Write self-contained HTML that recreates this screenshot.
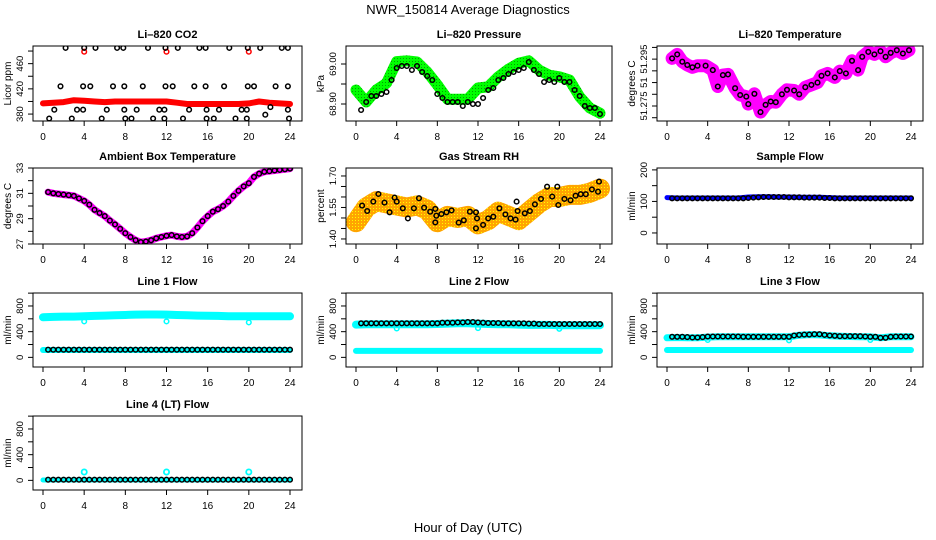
<!DOCTYPE html>
<html><head><meta charset="utf-8">
<style>
html,body{margin:0;padding:0;background:#fff;}
svg{display:block;font-family:"Liberation Sans",Arial,sans-serif;}
</style></head>
<body>
<svg id="chart" width="936" height="540" viewBox="0 0 936 540" xmlns="http://www.w3.org/2000/svg">
<defs>
<pattern id="grnpat" width="3" height="3" patternUnits="userSpaceOnUse"><rect width="3" height="3" fill="#00ff00"/><rect x="1" y="1" width="1" height="1" fill="#00a000"/></pattern>
<pattern id="rhpat" width="3" height="3" patternUnits="userSpaceOnUse"><rect width="3" height="3" fill="#ffa500"/><rect x="1" y="1" width="1" height="1" fill="#ffff00"/></pattern>
</defs>
<text x="468" y="14" text-anchor="middle" font-size="13">NWR_150814  Average Diagnostics</text>
<text x="468" y="532" text-anchor="middle" font-size="13">Hour of Day (UTC)</text>
</svg>
<script>
// ---- data ----
const halfHours = [0.5,1,1.5,2,2.5,3,3.5,4,4.5,5,5.5,6,6.5,7,7.5,8,8.5,9,9.5,10,10.5,11,11.5,12,12.5,13,13.5,14,14.5,15,15.5,16,16.5,17,17.5,18,18.5,19,19.5,20,20.5,21,21.5,22,22.5,23,23.5,24];
const hours = [0,1,2,3,4,5,6,7,8,9,10,11,12,13,14,15,16,17,18,19,20,21,22,23,24];

// CO2
const co2BandV = [397,398,399,402,401,400,399,400,400,400,400,400,400,398,396,396,396,396,396,396,397,400,398,397,396];
const co2BlackT = [2.2,4.0,5.1,7.2,7.8,10.2,11.9,13.1,15.2,15.8,18.1,19.9,21.1,23.2,23.8, 1.7,3.9,4.6,6.8,7.9,9.7,11.9,12.6,14.7,15.8,17.6,19.9,20.5,22.6,23.8, 1.1,3.3,3.9,6.2,7.9,9.1,11.3,11.8,14.2,15.9,17.1,19.3,19.8,23.8,22.1,21.6, 0.6,2.8,5.7,8.0,8.6,10.7,11.8,13.6,15.9,16.6,18.7,19.8,23.9];
const co2BlackV = [485,485,485,485,485,485,485,485,485,485,485,485,485,485,485, 424,424,424,424,424,424,424,424,424,424,424,424,424,424,424, 387,387,387,387,387,387,387,387,387,387,387,387,387,387,391,379, 373,373,373,373,373,373,373,373,373,373,373,373,373];
const co2OutT = [4.0,12.0,20.0];
const co2OutV = [479,479,479];

// Pressure
const presBandV = [68.935,68.905,68.935,68.952,69.006,69.008,69.005,68.98,68.948,68.912,68.912,68.912,68.94,68.943,68.968,68.987,69.002,69.008,68.985,68.972,68.968,68.96,68.918,68.89,68.877];
const presBlackV = [68.885,68.905,68.92,68.92,68.925,68.93,68.96,68.99,68.995,68.995,68.985,68.995,68.98,68.97,68.96,68.925,68.915,68.905,68.905,68.905,68.895,68.905,68.9,68.9,68.915,68.935,68.94,68.96,68.965,68.975,68.98,68.985,68.99,69.005,68.985,68.975,68.955,68.96,68.955,68.965,68.955,68.955,68.935,68.92,68.895,68.89,68.89,68.875];

// Li-820 temperature
const tempT = [0.5,1,1.5,2,2.5,3,3.8,4.5,5,5.5,6,6.7,7.2,7.8,8,8.6,9.2,9.7,10.2,10.7,11.3,11.8,12.5,13,13.6,14.2,14.8,15.2,15.8,16.5,17,17.6,18.2,18.8,19.2,19.8,20.4,21,21.5,22,22.6,23.2,23.8];
const tempV = [51.2953,51.2970,51.2939,51.2925,51.2915,51.2922,51.2922,51.2903,51.2833,51.2882,51.2885,51.2826,51.2797,51.2790,51.2758,51.2802,51.2724,51.2755,51.2769,51.2766,51.2800,51.2819,51.2816,51.2800,51.2830,51.2840,51.2850,51.2879,51.2889,51.2872,51.2899,51.2889,51.2943,51.2903,51.2960,51.2981,51.2970,51.2984,51.2960,51.2977,51.2988,51.2974,51.2988];

// Ambient box temperature
const ambV = [31.1,31.0,30.95,30.9,30.85,30.8,30.6,30.4,30.1,29.7,29.45,29.2,28.85,28.55,28.2,27.85,27.55,27.3,27.15,27.2,27.3,27.45,27.55,27.65,27.7,27.6,27.55,27.6,27.85,28.3,28.8,29.2,29.55,29.75,30.0,30.35,30.8,31.2,31.55,31.8,32.3,32.55,32.7,32.75,32.8,32.85,32.9,32.95];

// Gas stream RH
const rhBandV = [1.48,1.55,1.58,1.57,1.56,1.55,1.56,1.54,1.48,1.51,1.50,1.51,1.47,1.49,1.53,1.51,1.49,1.53,1.57,1.60,1.60,1.61,1.61,1.62,1.64];
const rhT = [0.6,1.1,1.7,2.2,2.8,3.3,3.8,4.0,4.6,5.1,5.7,6.2,6.7,7.3,7.8,7.9,7.8,8.4,8.9,9.4,10.1,10.6,11.2,11.8,11.9,11.8,12.5,13.0,13.5,14.1,14.7,15.2,15.7,15.8,15.9,16.6,17.1,17.6,18.2,18.8,19.3,19.8,19.9,20.5,21.1,21.6,22.1,22.6,23.2,23.8,23.9];
const rhV = [1.559,1.533,1.578,1.614,1.573,1.527,1.597,1.578,1.546,1.498,1.546,1.594,1.549,1.530,1.543,1.511,1.479,1.519,1.527,1.536,1.478,1.489,1.530,1.527,1.498,1.451,1.467,1.498,1.506,1.546,1.517,1.498,1.492,1.578,1.533,1.522,1.533,1.565,1.591,1.649,1.602,1.649,1.562,1.591,1.584,1.606,1.613,1.613,1.636,1.625,1.673];

// Sample flow
const sampBandV = [112,111,111,111,111,111,111,111,114,115,115,114,114,113,113,113,112,111,111,111,111,111,111,111,111];
const sampBlackV = [110,110,110,110,110,110,110,110,110,110,110,110,110,110,110,111,112,113,114,114,114,114,114,113,113,113,112,112,112,112,111,111,110,110,110,110,110,110,110,110,110,110,110,110,110,110,110,110];

// Line flows
const l1HiV = [625,630,635,635,640,645,650,655,660,665,668,668,665,660,655,650,648,645,640,640,640,640,640,640,640];
const l1LoV = [115,115,115,115,115,115,115,115,115,115,115,115,115,115,115,115,115,115,115,115,115,115,115,115,115];
const l1BlackV = [120,120,120,120,120,120,120,120,120,120,120,120,120,120,120,120,120,120,120,120,120,120,120,120,120,120,120,120,120,120,120,120,120,120,120,120,120,120,120,120,120,120,120,120,120,120,120,120];
const l1DipT = [4,12,20];
const l1DipV = [560,560,545];

const l2HiV = [510,515,515,515,515,515,515,515,520,525,530,530,525,520,515,515,510,505,505,505,500,500,500,500,500];
const l2LoV = [100,100,100,100,100,100,100,100,100,100,100,100,100,100,100,100,100,100,100,100,100,100,100,100,100];
const l2BlackV = [530,530,530,530,530,530,530,530,530,530,530,530,530,530,530,530,540,540,540,545,545,550,550,545,540,535,535,535,530,530,530,530,530,525,525,520,520,520,520,520,520,520,520,520,520,520,520,520];
const l2DipT = [4,12,20];
const l2DipV = [450,455,445];

const l3HiV = [305,310,305,305,315,320,320,320,320,320,320,320,320,345,355,350,335,330,325,320,320,305,320,320,320];
const l3LoV = [115,115,115,115,115,115,115,115,115,115,115,115,115,115,115,115,115,115,115,115,115,115,115,115,115];
const l3BlackV = [320,320,320,315,310,310,315,325,325,325,325,325,325,325,320,320,320,320,320,320,320,320,320,320,340,350,355,355,360,360,350,340,335,330,330,330,330,330,325,320,320,305,305,320,325,325,325,325];
const l3DipT = [4,12,20];
const l3DipV = [270,265,270];

const l4CyanV = [5,5,5,5,5,5,5,5,5,5,5,5,5,5,5,5,5,5,5,5,5,5,5,5,5];
const l4BlackV = [10,10,10,10,10,10,10,10,10,10,10,10,10,10,10,10,10,10,10,10,10,10,10,10,10,10,10,10,10,10,10,10,10,10,10,10,10,10,10,10,10,10,10,10,10,10,10,10];
const l4OutT = [4,12,20];
const l4OutV = [130,130,130];

const xTicks = [0,4,8,12,16,20,24];

// ---- drawing ----
const NS = 'http://www.w3.org/2000/svg';
const svg = document.getElementById('chart');
function mk(tag, attrs, parent){
  const e = document.createElementNS(NS, tag);
  for (const k in attrs) e.setAttribute(k, attrs[k]);
  (parent||svg).appendChild(e);
  return e;
}
const colBoxes = [[33,302],[346,612],[657,923]];
const rowBoxes = [[46,121],[168,244],[293,367],[416,490]];

function makePanel(col,row,title,ylab,ymin,ymax,yticks,ylabels,name){
  const [L,R] = colBoxes[col], [T,B] = rowBoxes[row];
  const g = mk('g',{});
  
  
  const x = h => (L+10) + h/24*((R-12)-(L+10));
  const y = v => B - (v-ymin)/(ymax-ymin)*(B-T);
  const clipId = 'clip-'+name;
  const cp = mk('clipPath',{id:clipId},g); mk('rect',{x:L,y:T,width:R-L,height:B-T},cp);
  const plot = mk('g',{'clip-path':'url(#'+clipId+')'},g);
  const t = mk('text',{x:(L+R)/2,y:T-8,'text-anchor':'middle','font-size':'11','font-weight':'bold'},g);
  t.textContent = title;
  
  
  const yl = mk('text',{x:L-22,y:(T+B)/2,'text-anchor':'middle','font-size':'10',transform:'rotate(-90 '+(L-22)+' '+((T+B)/2)+')'},g);
  yl.textContent = ylab;
  
  
  const bx = mk('rect',{x:L,y:T,width:R-L,height:B-T,fill:'none',stroke:'#000','stroke-width':1},g);
  
  
  xTicks.forEach(h=>{
    mk('line',{x1:x(h),x2:x(h),y1:B,y2:B+5,stroke:'#000'},g);
    const tl = mk('text',{x:x(h),y:B+19,'text-anchor':'middle','font-size':'10'},g);
    tl.textContent = h;
    
    
  });
  yticks.forEach((v,i)=>{
    const yy = y(v);
    if (yy < T-3 || yy > B+3) return;
    mk('line',{x1:L-5,x2:L,y1:yy,y2:yy,stroke:'#000'},g);
    if (ylabels[i]) {
      const tl = mk('text',{x:L-10,y:yy,'text-anchor':'middle','font-size':'9.5',transform:'rotate(-90 '+(L-10)+' '+yy+')'},g);
      tl.textContent = ylabels[i];
      
      
    }
  });
  return {plot,x,y};
}
function band(p,ts,vs,color,w,name){
  const pts = ts.map((t,i)=>p.x(t).toFixed(1)+','+p.y(vs[i]).toFixed(1)).join(' ');
  const e = mk('polyline',{points:pts,fill:'none',stroke:color,'stroke-width':w,'stroke-linejoin':'round','stroke-linecap':'round'},p.plot);
  
  
}
function dots(p,ts,vs,color,name,r,sw){
  ts.forEach((t,i)=>{
    const c = mk('circle',{cx:p.x(t).toFixed(1),cy:p.y(vs[i]).toFixed(1),r:r||2.3,fill:'none',stroke:color,'stroke-width':sw||1.5},p.plot);
    
    
  });
}

let p = makePanel(0,0,'Li\u2013820 CO2','Licor ppm',369,488,[380,400,420,440,460,480],['380','','420','','460',''],'co2');
band(p,hours,co2BandV,'#ff0000',6,'co2-minute-band');
dots(p,co2OutT,co2OutV,'#ff0000','co2-red-outlier');
dots(p,co2BlackT,co2BlackV,'#000','co2-average-point');

p = makePanel(1,0,'Li\u2013820 Pressure','kPa',68.8575,69.045,[68.85,68.90,68.95,69.00],['','68.90','','69.00'],'pressure');
band(p,hours,presBandV,'url(#grnpat)',11,'pressure-minute-band');
dots(p,halfHours,presBlackV,'#000','pressure-average-point');

p = makePanel(2,0,'Li\u2013820 Temperature','degrees C',51.2686,51.3006,[51.270,51.275,51.280,51.285,51.290,51.295,51.300],['','51.275','','51','','51.295',''],'li820-temp');
band(p,tempT,tempV,'#ff00ff',13,'li820-temp-minute-band');
dots(p,tempT,tempV,'#000','li820-temp-average-point');

p = makePanel(0,1,'Ambient Box Temperature','degrees C',27,33,[27,28,29,30,31,32,33],['27','','29','','31','','33'],'ambient-temp');
band(p,halfHours,ambV,'#ff00ff',7,'ambient-temp-minute-band');
dots(p,halfHours,ambV,'#000','ambient-temp-average-point');

p = makePanel(1,1,'Gas Stream RH','percent',1.376,1.738,[1.40,1.45,1.50,1.55,1.60,1.65,1.70],['1.40','','','1.55','','','1.70'],'rh');
band(p,hours,rhBandV,'url(#rhpat)',20,'rh-minute-band');
dots(p,rhT,rhV,'#000','rh-average-point');

p = makePanel(2,1,'Sample Flow','ml/min',-35,206,[0,50,100,150,200],['0','','100','','200'],'sample-flow');
band(p,hours,sampBandV,'#0000ff',5,'sample-flow-minute-band');
dots(p,halfHours,sampBlackV,'#000','sample-flow-average-point');

const flowTicks = [0,200,400,600,800,1000], flowLabels = ['0','','400','','800',''];
p = makePanel(0,2,'Line 1 Flow','ml/min',-150,1002,flowTicks,flowLabels,'line1-flow');
band(p,hours,l1HiV,'#00ffff',8,'line1-high-band');
band(p,hours,l1LoV,'#00ffff',6,'line1-low-band');
dots(p,l1DipT,l1DipV,'#00ffff','line1-cyan-outlier');
dots(p,halfHours,l1BlackV,'#000','line1-average-point');

p = makePanel(1,2,'Line 2 Flow','ml/min',-150,1002,flowTicks,flowLabels,'line2-flow');
band(p,hours,l2HiV,'#00ffff',8,'line2-high-band');
band(p,hours,l2LoV,'#00ffff',6,'line2-low-band');
dots(p,l2DipT,l2DipV,'#00ffff','line2-cyan-outlier');
dots(p,halfHours,l2BlackV,'#000','line2-average-point');

p = makePanel(2,2,'Line 3 Flow','ml/min',-150,1002,flowTicks,flowLabels,'line3-flow');
band(p,hours,l3HiV,'#00ffff',7,'line3-high-band');
band(p,hours,l3LoV,'#00ffff',6,'line3-low-band');
dots(p,l3DipT,l3DipV,'#00ffff','line3-cyan-outlier');
dots(p,halfHours,l3BlackV,'#000','line3-average-point');

p = makePanel(0,3,'Line 4 (LT) Flow','ml/min',-150,1002,flowTicks,flowLabels,'line4-flow');
band(p,hours,l4CyanV,'#00ffff',5,'line4-band');
dots(p,l4OutT,l4OutV,'#00ffff','line4-cyan-outlier',2.6,1.8);
dots(p,halfHours,l4BlackV,'#000','line4-average-point');
</script>
</body></html>
